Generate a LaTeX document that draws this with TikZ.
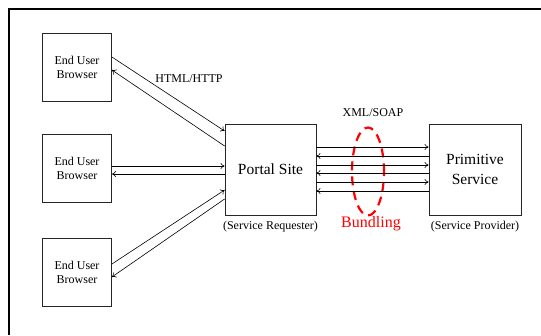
\documentclass[tikz,border=0pt]{standalone}
\usepackage{fontspec}
\setmainfont{Liberation Serif}
\usetikzlibrary{arrows.meta}
\begin{document}
\begin{tikzpicture}[x=1pt,y=-1pt,
  box/.style={draw=black!85,line width=0.8pt,rectangle,inner sep=0pt,align=center},
  small/.style={font=\fontsize{12}{14}\selectfont},
  big/.style={font=\fontsize{15.5}{20}\selectfont},
  conn/.style={draw,line width=0.6pt,-{To[length=4pt,width=6pt]}}]
\useasboundingbox (0,0) rectangle (541,335);
\draw[line width=2pt] (541,9) -- (9,9) -- (9,335);
\node[box,small,minimum width=69pt,minimum height=68pt] (b1) at (77,67) {End User\\Browser};
\node[box,small,minimum width=69pt,minimum height=68pt] (b2) at (77,168) {End User\\Browser};
\node[box,small,minimum width=69pt,minimum height=68pt] (b3) at (77,272) {End User\\Browser};
\node[box,big,minimum width=91pt,minimum height=91pt] (ps) at (270.5,169.5) {Portal Site};
\node[box,big,minimum width=92pt,minimum height=91pt] (pr) at (475,169.5) {Primitive\\Service};
\node[small] (req) at (270.5,227) {(Service Requester)};
\node[small] (prov) at (475,227) {(Service Provider)};
\node[small] (html) at (189,79) {HTML/HTTP};
\node[small] (xml) at (373,113) {XML/SOAP};
\node[font=\fontsize{16}{20}\selectfont,text=red] (bund) at (371,224) {Bundling};
\draw[red,line width=2.2pt,dash pattern=on 9pt off 6pt,dash phase=4.5pt] (368,171.5) ellipse (16 and 44);
% browser 1
\draw[conn] ([yshift=10pt]b1.east) -- ([yshift=38.5pt]ps.west);
\draw[conn] ([yshift=23.5pt]ps.west) -- ([yshift=-3pt]b1.east);
% browser 2
\draw[conn] ([yshift=2pt]b2.east) -- ([yshift=2pt]b2.east -| ps.west);
\draw[conn] ([yshift=-6pt]b2.east -| ps.west) -- ([yshift=-6pt]b2.east);
% browser 3
\draw[conn] ([yshift=8pt]b3.east) -- ([yshift=-20.5pt]ps.west);
\draw[conn] ([yshift=-29.5pt]ps.west) -- ([yshift=-5pt]b3.east);
% bundled
\foreach \dy/\dir in {22.5/1,13.5/0,4.5/1,-3.5/0,-12.5/1,-21.5/0}{
  \ifnum\dir=1
    \draw[conn] ([yshift=\dy pt]ps.east) -- ([yshift=\dy pt]ps.east -| pr.west);
  \else
    \draw[conn] ([yshift=\dy pt]ps.east -| pr.west) -- ([yshift=\dy pt]ps.east);
  \fi
}
\end{tikzpicture}
\end{document}
